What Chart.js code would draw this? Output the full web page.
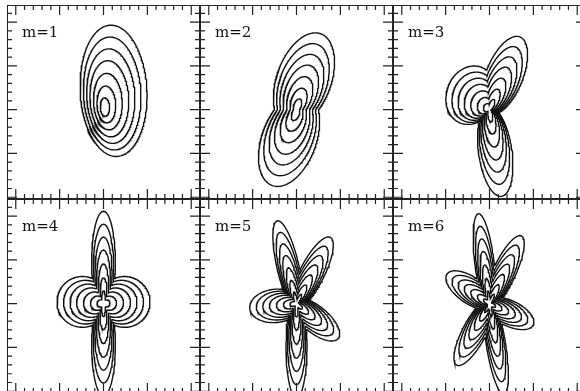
<!DOCTYPE html>
<html>
<head>
<meta charset="utf-8">
<script src="https://cdn.jsdelivr.net/npm/chart.js@4.4.0/dist/chart.umd.min.js"></script>
<style>
  body { margin: 0; background: #fff; width: 580px; height: 391px; overflow: hidden; position: relative; }
  .panel { position: absolute; width: 193px; height: 194px; }
</style>
</head>
<body>
<div class="panel" style="left:7px;top:5px"><canvas id="p1" width="193" height="194"></canvas></div>
<div class="panel" style="left:200px;top:5px"><canvas id="p2" width="193" height="194"></canvas></div>
<div class="panel" style="left:393px;top:5px"><canvas id="p3" width="193" height="194"></canvas></div>
<div class="panel" style="left:7px;top:199px"><canvas id="p4" width="193" height="194"></canvas></div>
<div class="panel" style="left:200px;top:199px"><canvas id="p5" width="193" height="194"></canvas></div>
<div class="panel" style="left:393px;top:199px"><canvas id="p6" width="193" height="194"></canvas></div>
<script>
// panel titles
const panelLabels = ['m=1', 'm=2', 'm=3', 'm=4', 'm=5', 'm=6'];

// contour levels, as fractions of the outermost contour
const levels = [1.0, 0.86, 0.72, 0.58, 0.43, 0.28, 0.14];

// axis ticks (no labels in the figure)
const majorTicks = [-2, -1, 0, 1, 2];
const minorTicks = [-1.8, -1.6, -1.4, -1.2, -0.8, -0.6, -0.4, -0.2,
                    0.2, 0.4, 0.6, 0.8, 1.2, 1.4, 1.6, 1.8, 2.2];

// lobes of each pattern:
// [centre x, centre y, semi-major, semi-minor, angle of major axis (deg)]
const lobesM1 = [[0.23, 0.43, 1.5, 0.76, 93]];
const lobesM2 = [[0.17, 0.68, 1.12, 0.62, 70], [-0.17, -0.68, 1.12, 0.62, 70]];
const lobesM3 = [[0.34, 0.78, 0.95, 0.42, 68], [-0.42, 0.33, 0.56, 0.68, 160], [0.13, -0.96, 1.03, 0.38, -82]];
const lobesM4 = [[0, 0.95, 1.16, 0.27, 90], [0, -0.95, 1.16, 0.27, 90],
                 [-0.48, 0.04, 0.58, 0.58, 0], [0.48, 0.04, 0.58, 0.58, 0]];
const lobesM5 = [[-0.196, 0.85, 1.07, 0.25, 103], [0.347, 0.682, 0.935, 0.28, 63],
                 [-0.478, -0.05, 0.59, 0.38, 186], [0.429, -0.36, 0.68, 0.3, -40],
                 [0, -0.97, 1.18, 0.24, -90]];
const lobesM6 = [[-0.113, 0.923, 1.14, 0.22, 97], [0.328, 0.697, 0.94, 0.26, 64.8],
                 [-0.434, 0.304, 0.65, 0.3, 145], [0.45, -0.219, 0.61, 0.29, -26],
                 [-0.336, -0.632, 0.875, 0.27, 242], [0.148, -0.933, 1.155, 0.22, -81]];

const allLobes = [lobesM1, lobesM2, lobesM3, lobesM4, lobesM5, lobesM6];

// distance from the origin to the edge of one lobe along direction th
function lobeRadius(lobe, th) {
    const [cx, cy, a, b, rot] = lobe;
    const p = rot * Math.PI / 180;
    const cp = Math.cos(p), sp = Math.sin(p);
    const ux = Math.cos(th), uy = Math.sin(th);
    const u1 = ux * cp + uy * sp, u2 = -ux * sp + uy * cp;
    const c1 = cx * cp + cy * sp, c2 = -cx * sp + cy * cp;
    const A = u1 * u1 / (a * a) + u2 * u2 / (b * b);
    const B = u1 * c1 / (a * a) + u2 * c2 / (b * b);
    const C = c1 * c1 / (a * a) + c2 * c2 / (b * b) - 1;
    const disc = B * B - A * C;
    if (disc < 0) return 0;
    return Math.max(0, (B + Math.sqrt(disc)) / A);
}

// one closed contour: outline of all lobes, scaled about the origin
function contour(lobes, s) {
    const pts = [];
    for (let deg = 0; deg <= 360; deg += 1) {
        const th = deg * Math.PI / 180;
        let r = 0;
        lobes.forEach(l => { r = Math.max(r, lobeRadius(l, th)); });
        pts.push({x: s * r * Math.cos(th), y: s * r * Math.sin(th)});
    }
    return pts;
}

// frame, inward ticks on all four sides and the panel title
const framePlugin = {
    id: 'frame',
    afterDraw(chart) {
        const {ctx, chartArea: {left, right, top, bottom}, scales: {x, y}} = chart;
        ctx.save();
        ctx.strokeStyle = '#222';
        ctx.lineWidth = 1.2;
        ctx.beginPath();
        const tick = (v, len) => {
            const px = x.getPixelForValue(v), py = y.getPixelForValue(v);
            if (v > x.min && v < x.max) {
                ctx.moveTo(px, top); ctx.lineTo(px, top + len);
                ctx.moveTo(px, bottom); ctx.lineTo(px, bottom - len);
            }
            if (v > y.min && v < y.max) {
                ctx.moveTo(left, py); ctx.lineTo(left + len, py);
                ctx.moveTo(right, py); ctx.lineTo(right - len, py);
            }
        };
        majorTicks.forEach(v => tick(v, 10));
        minorTicks.forEach(v => tick(v, 5));
        ctx.stroke();
        ctx.lineWidth = 2;
        ctx.strokeRect(left, top, right - left, bottom - top);
        ctx.fillStyle = '#111';
        ctx.font = '15px "DejaVu Serif"';
        ctx.textBaseline = 'alphabetic';
        ctx.fillText(chart.options.plugins.frame.label, left + 15, top + 32);
        ctx.restore();
    }
};

allLobes.forEach((lobes, i) => {
    const canvas = document.querySelector('#p' + (i + 1));
    new Chart(canvas.getContext('2d'), {
        type: 'scatter',
        data: {
            datasets: levels.map(s => ({
                data: contour(lobes, s),
                showLine: true,
                pointRadius: 0,
                borderColor: '#111',
                borderWidth: 1.4,
                fill: false
            }))
        },
        options: {
            responsive: false,
            animation: false,
            devicePixelRatio: 1,
            events: [],
            layout: {padding: 0},
            scales: {
                x: {type: 'linear', min: -2.2, max: 2.2, display: false},
                y: {type: 'linear', min: -2.04, max: 2.39, display: false}
            },
            plugins: {
                legend: {display: false},
                tooltip: {enabled: false},
                frame: {label: panelLabels[i]}
            }
        },
        plugins: [framePlugin]
    });
});
</script>
</body>
</html>
